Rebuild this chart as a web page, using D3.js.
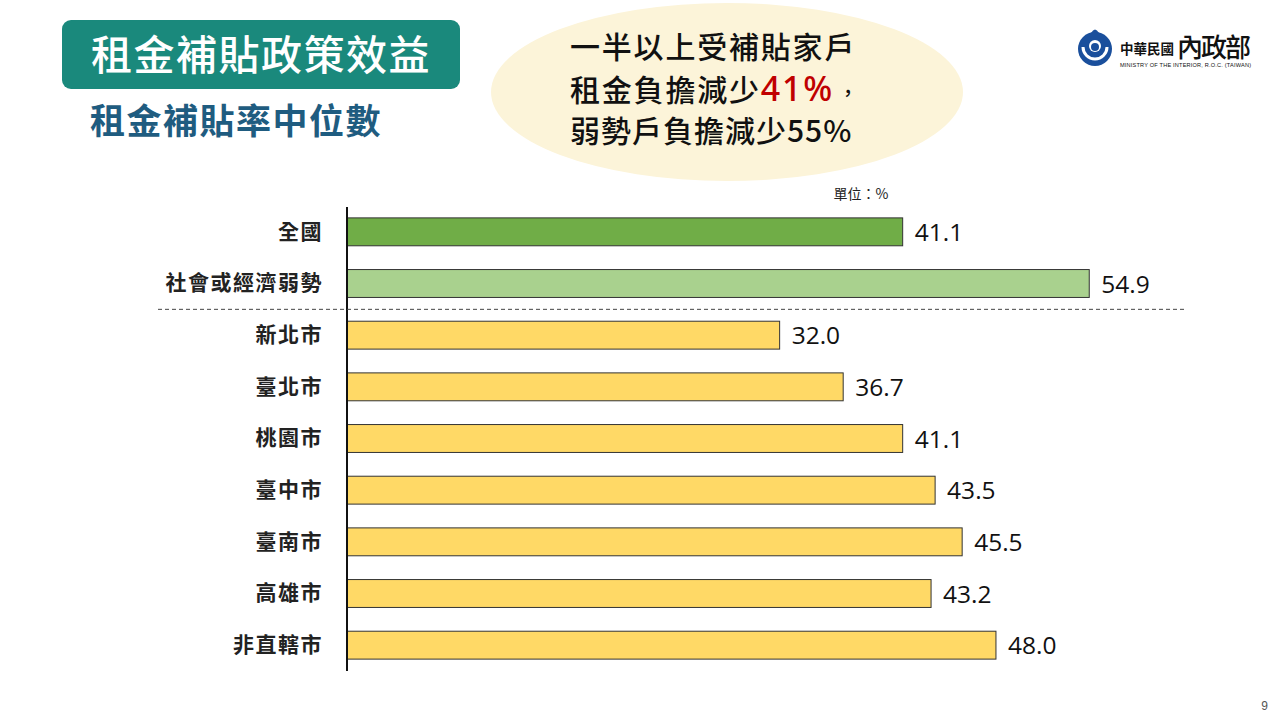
<!DOCTYPE html>
<html>
<head>
<meta charset="utf-8">
<script src="https://cdn.jsdelivr.net/npm/d3@7"></script>
<style>
  html, body { margin: 0; padding: 0; background: #fff; }
  svg { display: block; }
</style>
</head>
<body>
<svg id="chart" width="1280" height="720"></svg>
<script>
// ---- data ----
const categories = ["全國", "社會或經濟弱勢", "新北市", "臺北市", "桃園市", "臺中市", "臺南市", "高雄市", "非直轄市"];
const values = [41.1, 54.9, 32.0, 36.7, 41.1, 43.5, 45.5, 43.2, 48.0];
const groups = ["national", "vulnerable", "city", "city", "city", "city", "city", "city", "city"];
const valueLabels = ["41.1", "54.9", "32.0", "36.7", "41.1", "43.5", "45.5", "43.2", "48.0"];
const unitLabel = "單位：%";
const titleText = "租金補貼政策效益";
const subtitleText = "租金補貼率中位數";
const calloutLine1 = "一半以上受補貼家戶";
const calloutLine2a = "租金負擔減少";
const calloutLine2b = "41%";
const calloutLine2c = "，";
const calloutLine3 = "弱勢戶負擔減少55%";

const colorMap = { national: "#70ad47", vulnerable: "#a9d18e", city: "#ffd966" };
const CJK = "'Noto Sans CJK TC','Noto Sans CJK SC','Noto Sans',sans-serif";

const svg = d3.select("#chart");

// ---- header ----
svg.append("rect").attr("x", 62).attr("y", 20).attr("width", 398).attr("height", 69)
  .attr("rx", 9).attr("fill", "#1a897c");
svg.append("text").attr("x", 261).attr("y", 70).attr("text-anchor", "middle")
  .attr("font-family", CJK).attr("font-weight", 500).attr("font-size", 41)
  .attr("fill", "#fff").attr("letter-spacing", 1.5).text(titleText);
svg.append("text").attr("x", 90).attr("y", 134)
  .attr("font-family", CJK).attr("font-weight", 700).attr("font-size", 35)
  .attr("fill", "#1f5c80").attr("letter-spacing", 1.5).text(subtitleText);

// ---- callout ellipse ----
svg.append("ellipse").attr("cx", 727).attr("cy", 92).attr("rx", 236).attr("ry", 89)
  .attr("fill", "#fcf4d9");
const cStyle = s => s.attr("font-family", CJK).attr("font-weight", 500).attr("font-size", 30).attr("fill", "#111");
cStyle(svg.append("text").attr("x", 570).attr("y", 58).attr("letter-spacing", 1.8)).text(calloutLine1);
const l2 = cStyle(svg.append("text").attr("x", 570).attr("y", 101).attr("letter-spacing", 1.8));
l2.append("tspan").text(calloutLine2a);
l2.append("tspan").attr("fill", "#c00000").attr("font-size", 34).attr("font-family", "'Noto Sans','Open Sans',sans-serif").attr("font-weight", 500).text(calloutLine2b);
l2.append("tspan").attr("font-size", 20).attr("dx", 4).text(calloutLine2c);
cStyle(svg.append("text").attr("x", 570).attr("y", 142).attr("letter-spacing", 1)).text(calloutLine3);

// ---- logo ----
const logo = svg.append("g");
logo.append("circle").attr("cx", 1095).attr("cy", 49).attr("r", 17).attr("fill", "#1a4f9c");
logo.append("path").attr("d", "M1091,33 Q1095,26 1099,33 Z").attr("fill", "#1a4f9c");
logo.append("path").attr("d", "M1083,47 A12,12 0 0 0 1107,47").attr("fill", "none").attr("stroke", "#fff").attr("stroke-width", 3);
logo.append("circle").attr("cx", 1095).attr("cy", 46).attr("r", 6).attr("fill", "#fff");
logo.append("circle").attr("cx", 1095).attr("cy", 47).attr("r", 4).attr("fill", "#1a4f9c");
logo.append("text").attr("x", 1120).attr("y", 54).attr("font-family", CJK).attr("font-weight", 700)
  .attr("font-size", 13.5).attr("fill", "#111").text("中華民國");
logo.append("text").attr("x", 1177).attr("y", 57).attr("font-family", CJK).attr("font-weight", 500)
  .attr("font-size", 26).attr("fill", "#111").attr("letter-spacing", -2).text("內政部");
logo.append("text").attr("x", 1120).attr("y", 67).attr("font-family", "'Liberation Sans',sans-serif")
  .attr("font-size", 5.6).attr("fill", "#111").attr("textLength", 131).text("MINISTRY OF THE INTERIOR, R.O.C. (TAIWAN)");

// ---- chart ----
const x = d3.scaleLinear().domain([0, 60]).range([347, 347 + 60 * 13.52]);
const y = d3.scaleBand().domain(categories).range([206, 671]).paddingInner(0.46).paddingOuter(0.23);
const data = categories.map((c, i) => ({ cat: c, v: values[i], g: groups[i], lbl: valueLabels[i] }));

svg.append("text").attr("x", 861).attr("y", 199).attr("text-anchor", "middle")
  .attr("font-family", CJK).attr("font-size", 14).attr("fill", "#222").text(unitLabel);

svg.append("g").selectAll("rect").data(data).join("rect")
  .attr("x", x(0)).attr("y", d => y(d.cat))
  .attr("width", d => x(d.v) - x(0)).attr("height", y.bandwidth())
  .attr("fill", d => colorMap[d.g]).attr("stroke", "#333").attr("stroke-width", 1);

svg.append("g").selectAll("text").data(data).join("text")
  .attr("x", d => x(d.v) + 12).attr("y", d => y(d.cat) + y.bandwidth() / 2 + 9)
  .attr("font-family", "'Open Sans','Noto Sans',sans-serif").attr("font-size", 24.5)
  .attr("fill", "#111").text(d => d.lbl);

// y axis (category labels)
const yAxis = d3.axisLeft(y).tickSize(0).tickPadding(24);
const ag = svg.append("g").attr("transform", `translate(${x(0)},0)`).call(yAxis);
ag.select(".domain").attr("stroke", "#111").attr("stroke-width", 2).attr("d", "M0,207V671");
ag.selectAll("text").attr("font-family", CJK).attr("font-weight", 700)
  .attr("font-size", 21).attr("fill", "#222").attr("letter-spacing", 1.5);

// separator between summary rows and cities
const sepY = (y(categories[1]) + y.bandwidth() + y(categories[2])) / 2;
svg.append("line").attr("x1", 158).attr("x2", 1184).attr("y1", sepY).attr("y2", sepY)
  .attr("stroke", "#444").attr("stroke-width", 1).attr("stroke-dasharray", "4,3");

// page number
svg.append("text").attr("x", 1268).attr("y", 710).attr("text-anchor", "end")
  .attr("font-family", "'Liberation Sans',sans-serif").attr("font-size", 12).attr("fill", "#555").text("9");
</script>
</body>
</html>
